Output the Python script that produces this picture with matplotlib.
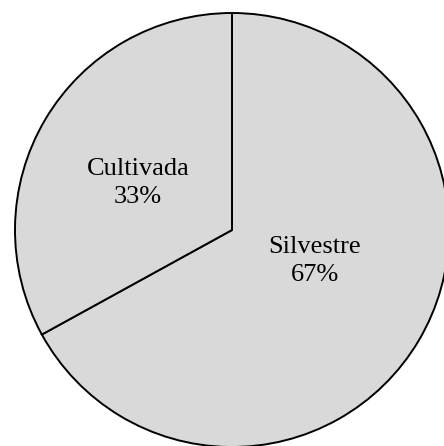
import matplotlib
matplotlib.use("Agg")
import matplotlib.pyplot as plt

categories = ["Silvestre", "Cultivada"]
values = [67, 33]

W, H = 444, 446
fig = plt.figure(figsize=(W / 100, H / 100), dpi=100)
ax = fig.add_axes([0, 0, 1, 1])
cx, cy, r = 232, 216, 217
wedges, _ = ax.pie(values, startangle=90, counterclock=False, center=(cx, cy), radius=r,
                   colors=["#d9d9d9"] * 2, frame=True,
                   wedgeprops=dict(edgecolor="black", linewidth=1.4))
ax.set_xlim(0, W)
ax.set_ylim(0, H)
ax.set_aspect("equal")
ax.axis("off")

label_pos = [(83, -31), (-94, 47)]
total = sum(values)
for cat, v, (dx, dy) in zip(categories, values, label_pos):
    ax.text(cx + dx, cy + dy, f"{cat}\n{round(100 * v / total)}%", ha="center", va="center",
            fontsize=19, family="Liberation Serif", linespacing=1.4)

fig.savefig("out.png", dpi=100)
